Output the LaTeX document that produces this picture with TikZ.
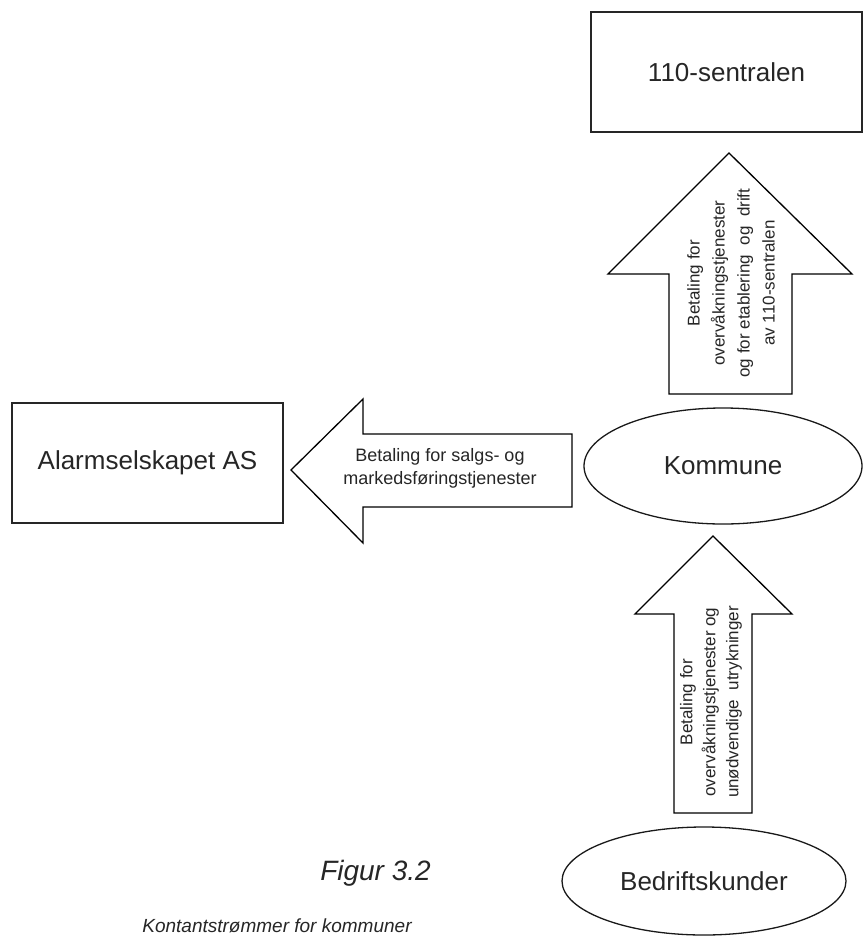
\documentclass[tikz,border=0pt]{standalone}
\usepackage{fontspec}
\setmainfont{Liberation Sans}
\usetikzlibrary{shapes.geometric}
\begin{document}
\begin{tikzpicture}[x=1pt,y=-1pt,
  boxnode/.style={draw=black!85,line width=1.6pt,rectangle,minimum width=271pt,minimum height=120pt,inner sep=0pt,text=black!85,font=\fontsize{26}{30}\selectfont},
  ellnode/.style={draw=black!90,line width=1.3pt,ellipse,inner sep=0pt,text=black!85,font=\fontsize{26}{30}\selectfont},
  bigarrow/.style={draw=black,line width=1.3pt,line join=miter,fill=white},
  arrowtext/.style={align=center,text=black!85,inner sep=0pt},
  captext/.style={text=black!85,inner sep=0pt}]
\useasboundingbox (0,0) rectangle (863,937);
% nodes
\node[boxnode] (sentral) at (726.5,72) {110-sentralen};
\node[boxnode] (alarm) at (147.5,463) {Alarmselskapet AS};
\node[ellnode,minimum width=278pt,minimum height=116pt] (kommune) at (723,466) {Kommune};
\node[ellnode,minimum width=284pt,minimum height=108pt] (kunder) at (704,881) {Bedriftskunder};
% arrow shapes
\draw[bigarrow] (729,153) -- (852,274) -- (792,274) -- (792,394) -- (669,394) -- (669,274) -- (608,274) -- cycle;
\draw[bigarrow] (713,536) -- (792,614) -- (752,614) -- (752,813) -- (674,813) -- (674,614) -- (635,614) -- cycle;
\draw[bigarrow] (291,470) -- (363,399) -- (363,434) -- (572,434) -- (572,507) -- (363,507) -- (363,543) -- cycle;
% arrow texts
\node[arrowtext,rotate=90,font=\fontsize{17}{25}\selectfont] (t1) at (731,283) {Betaling for\\overvåkningstjenester\\og for etablering~ og~ drift\\av 110-sentralen};
\node[arrowtext,rotate=90,font=\fontsize{17}{23}\selectfont] (t2) at (711,702) {Betaling for\\overvåkningstjenester og\\unødvendige~ utrykninger};
\node[arrowtext,font=\fontsize{18}{23}\selectfont] (t3) at (440,468) {Betaling for salgs- og\\markedsføringstjenester};
% caption
\node[captext,font=\fontsize{28}{32}\selectfont\itshape] (fig) at (375.5,873) {Figur 3.2};
\node[captext,font=\fontsize{19}{22}\selectfont\itshape] (capt) at (277,926) {Kontantstrømmer for kommuner};
\end{tikzpicture}
\end{document}
